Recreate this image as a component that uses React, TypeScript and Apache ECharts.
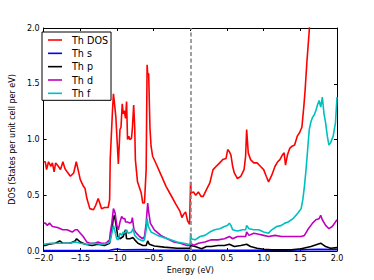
import React, { useEffect, useRef } from "react";
import * as echarts from "echarts";

// Th DOS (total)
const dosE = [-2.0, -1.977, -1.96, -1.933, -1.9, -1.88, -1.857, -1.836, -1.8, -1.77, -1.737, -1.71, -1.68, -1.635, -1.59, -1.555, -1.53, -1.5, -1.457, -1.435, -1.41, -1.37, -1.32, -1.29, -1.256, -1.235, -1.21, -1.17, -1.12, -1.1, -1.092, -1.061, -1.048, -1.03, -1.015, -0.981, -0.959, -0.945, -0.928, -0.915, -0.901, -0.883, -0.869, -0.856, -0.838, -0.825, -0.802, -0.789, -0.772, -0.758, -0.749, -0.72, -0.669, -0.648, -0.625, -0.602, -0.589, -0.581, -0.568, -0.55, -0.535, -0.514, -0.465, -0.398, -0.331, -0.264, -0.198, -0.144, -0.114, -0.09, -0.064, -0.037, -0.01, -0.003, 0.004, 0.012, 0.043, 0.073, 0.11, 0.146, 0.176, 0.22, 0.266, 0.31, 0.354, 0.4, 0.443, 0.487, 0.51, 0.533, 0.554, 0.577, 0.6, 0.643, 0.688, 0.733, 0.754, 0.768, 0.79, 0.821, 0.866, 0.91, 0.955, 1.0, 1.035, 1.067, 1.111, 1.155, 1.191, 1.222, 1.254, 1.28, 1.298, 1.324, 1.355, 1.387, 1.422, 1.458, 1.489, 1.521, 1.547, 1.565, 1.59, 1.622, 1.645, 1.685];
const dosV = [0.80, 0.80, 0.73, 0.80, 0.76, 0.79, 0.71, 0.79, 0.76, 0.73, 0.80, 0.74, 0.71, 0.67, 0.70, 0.80, 0.73, 0.64, 0.58, 0.56, 0.47, 0.38, 0.37, 0.41, 0.47, 0.43, 0.38, 0.39, 0.39, 0.46, 0.82, 1.26, 1.41, 1.30, 1.20, 0.78, 1.09, 1.11, 1.32, 1.23, 1.26, 1.19, 1.34, 1.00, 1.03, 1.00, 1.01, 1.11, 1.31, 1.11, 0.82, 0.62, 0.52, 0.43, 0.43, 0.73, 1.67, 1.59, 1.59, 1.10, 0.94, 0.85, 0.78, 0.68, 0.58, 0.50, 0.42, 0.36, 0.30, 0.33, 0.35, 0.27, 0.24, 0.24, 0.62, 0.52, 0.53, 0.50, 0.53, 0.49, 0.49, 0.55, 0.61, 0.73, 0.76, 0.79, 0.82, 0.83, 0.91, 0.89, 0.86, 0.76, 0.70, 0.65, 0.67, 0.73, 0.85, 1.09, 0.88, 0.82, 0.79, 0.79, 0.76, 0.73, 0.67, 0.62, 0.68, 0.76, 0.80, 0.82, 0.86, 0.88, 0.77, 0.86, 0.92, 0.94, 0.95, 1.03, 1.06, 1.11, 1.29, 1.44, 1.70, 1.98, 2.20, 2.60];

// Th s
const sE = [-2.0, -1.5, -1.1, -1.05, -1.0, -0.95, -0.9, -0.6, -0.5, 0.0, 0.5, 1.0, 1.5, 1.75, 2.0];
const sV = [0.005, 0.005, 0.006, 0.012, 0.018, 0.012, 0.01, 0.012, 0.008, 0.006, 0.006, 0.006, 0.01, 0.015, 0.012];

// Th p
const pE = [-2.0, -1.977, -1.93, -1.84, -1.78, -1.74, -1.64, -1.57, -1.55, -1.5, -1.43, -1.34, -1.26, -1.17, -1.1, -1.092, -1.07, -1.048, -1.035, -1.016, -0.989, -0.959, -0.915, -0.883, -0.869, -0.825, -0.781, -0.758, -0.714, -0.648, -0.602, -0.581, -0.558, -0.491, -0.358, -0.18, -0.024, -0.003, 0.004, 0.065, 0.154, 0.22, 0.287, 0.376, 0.466, 0.533, 0.6, 0.688, 0.768, 0.821, 0.91, 1.0, 1.111, 1.244, 1.378, 1.511, 1.645, 1.778, 1.845, 1.912, 2.0];
const pV = [0.05, 0.05, 0.06, 0.07, 0.09, 0.07, 0.07, 0.09, 0.11, 0.08, 0.06, 0.05, 0.06, 0.05, 0.07, 0.11, 0.19, 0.30, 0.32, 0.25, 0.13, 0.11, 0.13, 0.19, 0.11, 0.11, 0.12, 0.10, 0.07, 0.05, 0.05, 0.09, 0.06, 0.045, 0.035, 0.025, 0.025, 0.025, 0.05, 0.04, 0.02, 0.04, 0.04, 0.05, 0.05, 0.06, 0.04, 0.05, 0.06, 0.04, 0.025, 0.015, 0.01, 0.01, 0.01, 0.02, 0.04, 0.07, 0.04, 0.025, 0.03];

// Th d
const dE = [-2.0, -1.977, -1.95, -1.92, -1.88, -1.81, -1.74, -1.68, -1.61, -1.57, -1.54, -1.5, -1.46, -1.41, -1.37, -1.3, -1.26, -1.21, -1.15, -1.1, -1.092, -1.07, -1.048, -1.025, -1.003, -0.981, -0.959, -0.936, -0.915, -0.892, -0.883, -0.856, -0.825, -0.802, -0.79, -0.768, -0.736, -0.692, -0.648, -0.625, -0.602, -0.581, -0.568, -0.545, -0.491, -0.402, -0.314, -0.224, -0.135, -0.047, -0.003, 0.004, 0.043, 0.11, 0.199, 0.287, 0.376, 0.466, 0.533, 0.577, 0.643, 0.71, 0.754, 0.768, 0.8, 0.866, 0.933, 1.0, 1.066, 1.155, 1.244, 1.378, 1.511, 1.556, 1.6, 1.667, 1.712, 1.756, 1.778, 1.8, 1.845, 1.89, 1.935, 1.979, 2.0];
const dV = [0.25, 0.25, 0.23, 0.25, 0.22, 0.21, 0.19, 0.19, 0.17, 0.19, 0.19, 0.16, 0.13, 0.08, 0.07, 0.07, 0.08, 0.07, 0.07, 0.10, 0.16, 0.25, 0.38, 0.34, 0.23, 0.19, 0.26, 0.31, 0.29, 0.29, 0.26, 0.26, 0.25, 0.26, 0.30, 0.19, 0.16, 0.13, 0.11, 0.13, 0.25, 0.43, 0.35, 0.25, 0.19, 0.14, 0.11, 0.08, 0.07, 0.05, 0.05, 0.07, 0.05, 0.07, 0.08, 0.10, 0.10, 0.11, 0.13, 0.11, 0.13, 0.13, 0.13, 0.17, 0.14, 0.16, 0.15, 0.14, 0.13, 0.14, 0.13, 0.13, 0.13, 0.14, 0.19, 0.25, 0.28, 0.29, 0.32, 0.28, 0.23, 0.20, 0.22, 0.26, 0.28];

// Th f
const fE = [-2.0, -1.9, -1.77, -1.64, -1.57, -1.5, -1.41, -1.32, -1.21, -1.12, -1.1, -1.088, -1.07, -1.048, -1.025, -1.003, -0.981, -0.959, -0.936, -0.915, -0.892, -0.869, -0.848, -0.802, -0.781, -0.758, -0.714, -0.648, -0.625, -0.602, -0.589, -0.572, -0.535, -0.447, -0.358, -0.268, -0.18, -0.09, -0.024, -0.003, 0.004, 0.012, 0.065, 0.132, 0.199, 0.266, 0.332, 0.4, 0.466, 0.51, 0.533, 0.554, 0.577, 0.643, 0.71, 0.754, 0.768, 0.8, 0.866, 0.933, 1.0, 1.067, 1.111, 1.178, 1.244, 1.289, 1.334, 1.4, 1.467, 1.511, 1.534, 1.556, 1.578, 1.6, 1.622, 1.645, 1.667, 1.689, 1.712, 1.734, 1.756, 1.778, 1.8, 1.823, 1.845, 1.868, 1.89, 1.912, 1.948, 1.979, 2.0];
const fV = [0.06, 0.07, 0.07, 0.07, 0.08, 0.07, 0.06, 0.07, 0.06, 0.07, 0.08, 0.10, 0.16, 0.23, 0.17, 0.11, 0.10, 0.16, 0.14, 0.17, 0.16, 0.19, 0.16, 0.17, 0.20, 0.14, 0.11, 0.09, 0.10, 0.19, 0.29, 0.22, 0.17, 0.14, 0.12, 0.10, 0.08, 0.07, 0.06, 0.06, 0.16, 0.11, 0.10, 0.13, 0.14, 0.17, 0.19, 0.20, 0.22, 0.23, 0.25, 0.23, 0.19, 0.18, 0.19, 0.19, 0.23, 0.20, 0.19, 0.19, 0.17, 0.16, 0.19, 0.22, 0.23, 0.25, 0.26, 0.29, 0.34, 0.38, 0.46, 0.58, 0.73, 0.91, 1.09, 1.16, 1.20, 1.22, 1.26, 1.31, 1.35, 1.29, 1.38, 1.23, 1.15, 1.03, 0.95, 0.97, 1.03, 1.15, 1.38];

const seriesNames = ["Th DOS", "Th s", "Th p", "Th d", "Th f"];
const seriesColors = ["#ff0000", "#0000ff", "#000000", "#bf00bf", "#00bfbf"];

export default function App() {
  const ref = useRef<HTMLDivElement>(null);
  useEffect(() => {
    const chart = echarts.init(ref.current!, null, { renderer: "svg" });
    const font = "DejaVu Sans";
    const fmt = (v: number) => v.toFixed(1).replace("-", "\u2212");
    const pair = (e: number[], v: number[]) => e.map((x, i) => [x, v[i]]);
    const datasets = [pair(dosE, dosV), pair(sE, sV), pair(pE, pV), pair(dE, dV), pair(fE, fV)];
    const line = { onZero: false, lineStyle: { color: "#000", width: 1 } };
    const tick = { show: true, inside: true, length: 3, lineStyle: { color: "#000", width: 1 } };
    chart.setOption({
      animation: false,
      backgroundColor: "#fff",
      textStyle: { fontFamily: font },
      grid: { left: 37, right: 37, top: 28, bottom: 29, containLabel: false },
      legend: {
        data: seriesNames,
        orient: "vertical",
        left: 42,
        top: 32,
        padding: [2.5, 3, 1.5, 6],
        icon: "rect",
        itemWidth: 14,
        itemHeight: 1.6,
        itemGap: 2.33,
        backgroundColor: "#fff",
        borderColor: "#000",
        borderWidth: 1,
        borderRadius: 0,
        textStyle: { fontFamily: font, fontSize: 9.6, color: "#000", lineHeight: 11, padding: [0, 0, 0, 5] },
      },
      xAxis: [
        {
          type: "value", min: -2, max: 2, interval: 0.5,
          axisLine: line, axisTick: tick, splitLine: { show: false },
          axisLabel: { formatter: fmt, fontSize: 8, color: "#000", margin: 3, fontFamily: font },
          name: "Energy (eV)", nameLocation: "middle", nameGap: 10,
          nameTextStyle: { fontSize: 8, color: "#000", fontFamily: font },
        },
        {
          type: "value", position: "top", min: -2, max: 2, interval: 0.5,
          axisLine: line, axisTick: tick, splitLine: { show: false }, axisLabel: { show: false },
        },
      ],
      yAxis: [
        {
          type: "value", min: 0, max: 2, interval: 0.5,
          axisLine: line, axisTick: tick, splitLine: { show: false },
          axisLabel: { formatter: fmt, fontSize: 8, color: "#000", margin: 4, fontFamily: font },
          name: "DOS (States per unit cell per eV)", nameLocation: "middle", nameGap: 17, nameRotate: 90,
          nameTextStyle: { fontSize: 8, color: "#000", fontFamily: font },
        },
        {
          type: "value", position: "right", min: 0, max: 2, interval: 0.5,
          axisLine: line, axisTick: tick, splitLine: { show: false }, axisLabel: { show: false },
        },
      ],
      series: seriesNames.map((name, i) => ({
        name,
        type: "line",
        xAxisIndex: 0,
        yAxisIndex: 0,
        data: datasets[i],
        symbol: "none",
        showSymbol: false,
        clip: true,
        color: seriesColors[i],
        lineStyle: { color: seriesColors[i], width: 1.6 },
        ...(i === 0
          ? {
              markLine: {
                silent: true,
                symbol: ["none", "none"],
                label: { show: false },
                lineStyle: { color: "#888888", type: [4, 2.5], width: 1.6 },
                data: [{ xAxis: 0 }],
              },
            }
          : {}),
      })),
    });
    return () => chart.dispose();
  }, []);
  return (
    <div
      ref={ref}
      style={{ position: "fixed", left: 0, top: 0, width: 374, height: 280, background: "#fff" }}
    />
  );
}
